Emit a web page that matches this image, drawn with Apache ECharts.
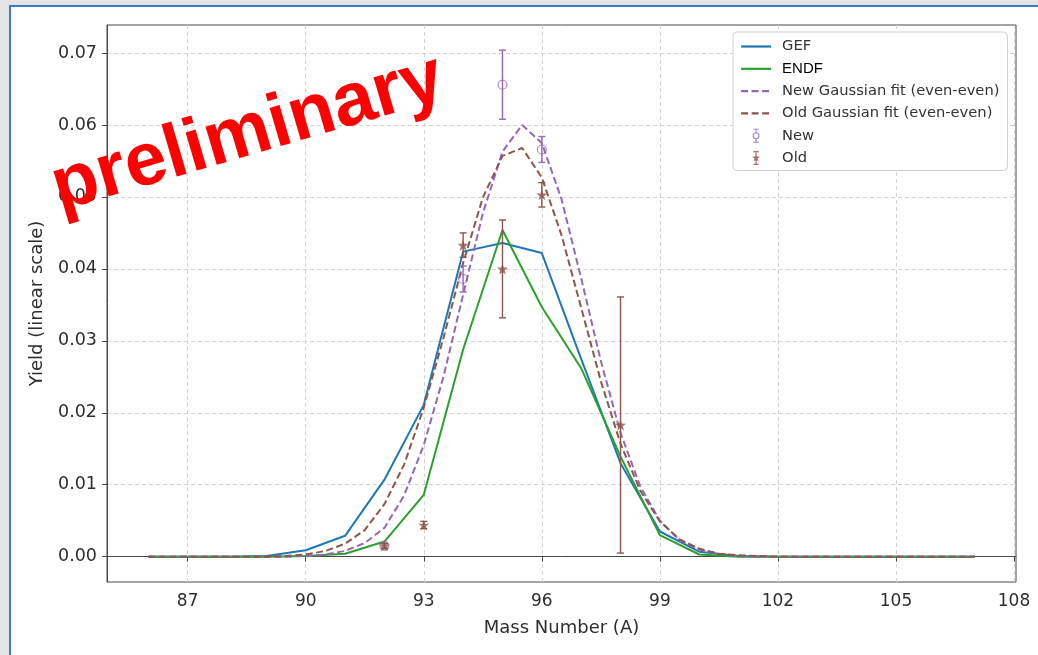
<!DOCTYPE html>
<html><head><meta charset="utf-8">
<script src="https://cdn.jsdelivr.net/npm/echarts@6/dist/echarts.min.js"></script>
<style>
html,body{margin:0;padding:0;width:1038px;height:655px;overflow:hidden;background:#e4e4e4;}
#frame{position:absolute;left:9px;top:5px;width:1040px;height:660px;background:#fff;border-left:2px solid #3b7bc6;border-top:2px solid #3b7bc6;}
#chart{position:absolute;left:0;top:0;width:1038px;height:655px;}
</style></head>
<body><div id="frame"></div><div id="chart"></div>
<script>
// ---- data ----
const massNumbers = [86,87,88,89,90,91,92,93,94,95,96,97,98,99,100,101,102,103,104,105,106,107];
const gefYield  = [0,0,0,0.0001,0.0009,0.0029,0.0107,0.0211,0.0424,0.0436,0.0422,0.0275,0.0130,0.0035,0.0007,0.0001,0,0,0,0,0,0];
const endfYield = [0,0,0,0,0.0001,0.0004,0.0021,0.0086,0.0288,0.0454,0.0347,0.0262,0.0139,0.0030,0.0003,0,0,0,0,0,0,0];

const fitMass = [86,87,88,89,89.5,90,90.5,91,91.5,92,92.5,93,93.5,94,94.5,95,95.5,96,96.5,97,97.5,98,98.5,99,99.5,100,100.5,101,101.5,102,103,104,105,106,107];
const newFitYield = [0,0,0,0,0,0.0001,0.0003,0.0008,0.0019,0.0040,0.0085,0.0155,0.0250,0.0364,0.0477,0.0563,0.0600,0.0575,0.0497,0.0387,0.0272,0.0172,0.0098,0.0050,0.0023,0.0010,0.0004,0.0001,0,0,0,0,0,0,0];
const oldFitYield = [0,0,0,0,0.0001,0.0003,0.0008,0.0018,0.0037,0.0073,0.0128,0.0207,0.0304,0.0408,0.0499,0.0557,0.0568,0.0527,0.0447,0.0346,0.0244,0.0157,0.0092,0.0049,0.0024,0.0011,0.0004,0.0002,0.0001,0,0,0,0,0,0];

const newMass  = [92, 94, 95, 96];
const newYield = [0.0015, 0.0386, 0.0656, 0.0566];
const newErr   = [0.0004, 0.0018, 0.0048, 0.0018];

const oldMass  = [92, 93, 94, 95, 96, 98];
const oldYield = [0.0015, 0.0044, 0.0433, 0.0400, 0.0503, 0.0183];
const oldErr   = [0.0003, 0.0005, 0.0017, 0.0068, 0.0017, 0.0178];

const xTicks = [87, 90, 93, 96, 99, 102, 105, 108];
const yTicks = [0, 0.01, 0.02, 0.03, 0.04, 0.05, 0.06, 0.07];

const seriesNames = ['GEF', 'ENDF', 'New Gaussian fit (even-even)', 'Old Gaussian fit (even-even)', 'New', 'Old'];

// ---- styles ----
const C_GEF = '#1f77b4', C_ENDF = '#2ca02c', C_NEW = '#9467bd', C_OLD = '#8c564b';
const FONT = '"DejaVu Sans", sans-serif';
const STAR = 'path://M5,3.5 L6.06,6.54 L9.28,6.61 L6.71,8.56 L7.65,11.64 L5,9.8 L2.35,11.64 L3.29,8.56 L0.72,6.61 L3.94,6.54 Z';
const RING = 'path://M0,5 A5,5 0 1,1 10,5 A5,5 0 1,1 0,5 Z M1.1,5 A3.9,3.9 0 1,0 8.9,5 A3.9,3.9 0 1,0 1.1,5 Z';
const NEW_ICON = 'path://M2,0 H8 V1.3 H2 Z M4.3,1 H5.7 V4 H4.3 Z M1,8 A4,4 0 1,1 9,8 A4,4 0 1,1 1,8 Z M2.3,8 A2.7,2.7 0 1,0 7.7,8 A2.7,2.7 0 1,0 2.3,8 Z M4.3,12 H5.7 V15 H4.3 Z M2,14.7 H8 V16 H2 Z';
const OLD_ICON = 'path://M2,0 H8 V1.3 H2 Z M4.3,1 H5.7 V15 H4.3 Z M5,3.2 L6.2,6.4 L9.6,6.5 L6.9,8.6 L7.9,12 L5,10 L2.1,12 L3.1,8.6 L0.4,6.5 L3.8,6.4 Z M2,14.7 H8 V16 H2 Z';

function errRender(color) {
  return function (params, api) {
    const x = api.value(0), lo = api.value(1), hi = api.value(2);
    const a = api.coord([x, lo]), b = api.coord([x, hi]);
    const cap = 3.5;
    const st = { stroke: color, lineWidth: 1.4, fill: null };
    return { type: 'group', children: [
      { type: 'line', shape: { x1: a[0], y1: a[1], x2: b[0], y2: b[1] }, style: st },
      { type: 'line', shape: { x1: a[0] - cap, y1: a[1], x2: a[0] + cap, y2: a[1] }, style: st },
      { type: 'line', shape: { x1: b[0] - cap, y1: b[1], x2: b[0] + cap, y2: b[1] }, style: st }
    ]};
  };
}

const hideSym = { opacity: 0 };

const chart = echarts.init(document.getElementById('chart'), null, { renderer: 'canvas' });
chart.setOption({
  animation: false,
  backgroundColor: 'transparent',
  grid: { left: 107, right: 22, top: 25, bottom: 73, show: true, borderColor: '#4a4a4a', borderWidth: 1, backgroundColor: '#fff' },
  xAxis: {
    type: 'value', min: 84.95, max: 108.05,
    name: 'Mass Number (A)', nameLocation: 'middle', nameGap: 37,
    nameTextStyle: { fontSize: 18, color: '#2e2e2e', fontFamily: FONT },
    axisLine: { show: true, lineStyle: { color: '#4a4a4a' } },
    axisTick: { show: true, inside: false, length: 5, customValues: xTicks, lineStyle: { color: '#4a4a4a' } },
    axisLabel: { customValues: xTicks, fontSize: 17, color: '#2e2e2e', fontFamily: FONT, margin: 11 },
    splitLine: { show: true, lineStyle: { color: '#d4d4d4', type: [4, 3], width: 1 } }
  },
  yAxis: {
    type: 'value', min: -0.00352, max: 0.0739,
    name: 'Yield (linear scale)', nameLocation: 'middle', nameGap: 61, nameRotate: 90,
    nameTextStyle: { fontSize: 18, color: '#2e2e2e', fontFamily: FONT },
    axisLine: { show: true, lineStyle: { color: '#4a4a4a' } },
    axisTick: { show: true, inside: false, length: 5, customValues: yTicks, lineStyle: { color: '#4a4a4a' } },
    axisLabel: { customValues: yTicks, fontSize: 17.5, color: '#2e2e2e', fontFamily: FONT, margin: 10,
                 formatter: v => v.toFixed(2) },
    splitLine: { show: true, lineStyle: { color: '#d4d4d4', type: [4, 3], width: 1 } }
  },
  legend: {
    orient: 'vertical', left: 733, top: 32,
    backgroundColor: '#fff', borderColor: '#d0d0d0', borderWidth: 1, borderRadius: 4,
    padding: [7, 8, 5, 7], itemWidth: 30, itemHeight: 14, itemGap: 7.3,
    selectedMode: false,
    lineStyle: { width: 2.2 },
    textStyle: { fontSize: 14.7, color: '#333', fontFamily: FONT, padding: [0, 0, 0, 6] },
    data: [
      { name: seriesNames[0], itemStyle: hideSym },
      { name: seriesNames[1], itemStyle: hideSym, textStyle: { color: '#000', fontFamily: '"Liberation Sans", Arial, sans-serif', fontSize: 15 } },
      { name: seriesNames[2], itemStyle: hideSym },
      { name: seriesNames[3], itemStyle: hideSym },
      { name: seriesNames[4], icon: NEW_ICON },
      { name: seriesNames[5], icon: OLD_ICON }
    ]
  },
  graphic: [{
    type: 'text', x: 248, y: 134, rotation: 0.285, z: 100,
    style: { text: 'preliminary', fill: '#ff0000', font: 'bold 75px "Liberation Sans", Arial, sans-serif',
             textAlign: 'center', textVerticalAlign: 'middle' }
  }],
  series: [
    { name: seriesNames[0], type: 'line', symbol: 'none', data: massNumbers.map((m, i) => [m, gefYield[i]]),
      lineStyle: { color: C_GEF, width: 2 }, itemStyle: { color: C_GEF }, z: 2 },
    { name: seriesNames[1], type: 'line', symbol: 'none', data: massNumbers.map((m, i) => [m, endfYield[i]]),
      lineStyle: { color: C_ENDF, width: 2 }, itemStyle: { color: C_ENDF }, z: 3 },
    { name: seriesNames[2], type: 'line', symbol: 'none', data: fitMass.map((m, i) => [m, newFitYield[i]]),
      lineStyle: { color: C_NEW, width: 2, type: [7, 3.5] }, itemStyle: { color: C_NEW }, z: 4 },
    { name: seriesNames[3], type: 'line', symbol: 'none', data: fitMass.map((m, i) => [m, oldFitYield[i]]),
      lineStyle: { color: C_OLD, width: 2, type: [7, 3.5] }, itemStyle: { color: C_OLD }, z: 5 },
    { name: 'New err', type: 'custom', renderItem: errRender(C_NEW), encode: { x: 0, y: [1, 2] },
      data: newMass.map((m, i) => [m, newYield[i] - newErr[i], newYield[i] + newErr[i]]), z: 6 },
    { name: seriesNames[4], type: 'scatter', symbol: RING, symbolSize: 10,
      data: newMass.map((m, i) => [m, newYield[i]]), itemStyle: { color: C_NEW }, z: 7 },
    { name: 'Old err', type: 'custom', renderItem: errRender(C_OLD), encode: { x: 0, y: [1, 2] },
      data: oldMass.map((m, i) => [m, oldYield[i] - oldErr[i], oldYield[i] + oldErr[i]]), z: 8 },
    { name: seriesNames[5], type: 'scatter', symbol: STAR, symbolSize: 11,
      data: oldMass.map((m, i) => [m, oldYield[i]]), itemStyle: { color: C_OLD }, z: 9 }
  ]
});
</script>
</body></html>
